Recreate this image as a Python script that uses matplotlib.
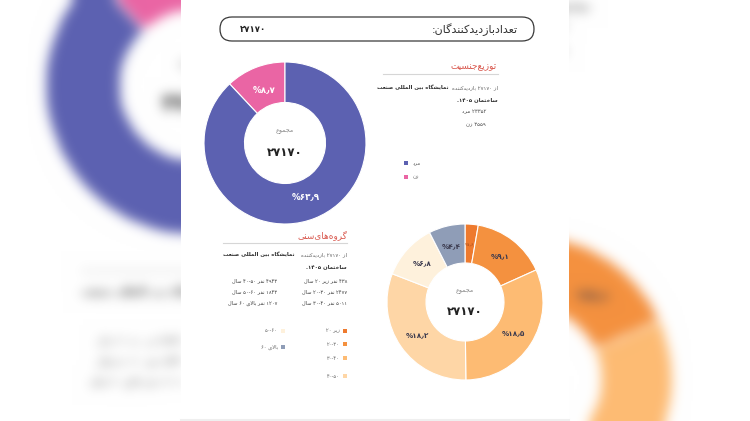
import numpy as np
import matplotlib
matplotlib.use("Agg")
import matplotlib.pyplot as plt
from matplotlib.patches import FancyBboxPatch, Rectangle

plt.rcParams["font.family"] = ["DejaVu Sans"]

W, H = 750, 421

# data
total_visitors = 27170
gender_names = ["زن", "مرد"]
gender_counts = [3559, 23352]
gender_pct = [8.7, 63.9]
gender_colors = ["#ea65a4", "#5c61b1"]

age_names = ["زیر ۲۰", "۲۰-۳۰", "۳۰-۴۰", "۴۰-۵۰", "۵۰-۶۰", "بالای ۶۰"]
age_counts = [438, 2477, 5011, 4943, 1843, 1207]
age_pct = [1.6, 9.1, 18.5, 18.2, 6.8, 4.4]
age_colors = ["#ee7a2e", "#f4913f", "#fdbb73", "#fed6a6", "#fef1dc", "#8f9db7"]

# --- tiny persian shaper + bidi, matplotlib does neither
FORMS = {
    "ا": "\ufe8d\ufe8e", "آ": "\ufe81\ufe82", "د": "\ufea9\ufeaa", "ذ": "\ufeab\ufeac",
    "ر": "\ufead\ufeae", "ز": "\ufeaf\ufeb0", "ژ": "\ufb8a\ufb8b", "و": "\ufeed\ufeee",
    "ب": "\ufe8f\ufe90\ufe91\ufe92", "پ": "\ufb56\ufb57\ufb58\ufb59", "ت": "\ufe95\ufe96\ufe97\ufe98",
    "ث": "\ufe99\ufe9a\ufe9b\ufe9c", "ج": "\ufe9d\ufe9e\ufe9f\ufea0", "چ": "\ufb7a\ufb7b\ufb7c\ufb7d",
    "ح": "\ufea1\ufea2\ufea3\ufea4", "خ": "\ufea5\ufea6\ufea7\ufea8", "س": "\ufeb1\ufeb2\ufeb3\ufeb4",
    "ش": "\ufeb5\ufeb6\ufeb7\ufeb8", "ص": "\ufeb9\ufeba\ufebb\ufebc", "ض": "\ufebd\ufebe\ufebf\ufec0",
    "ط": "\ufec1\ufec2\ufec3\ufec4", "ظ": "\ufec5\ufec6\ufec7\ufec8", "ع": "\ufec9\ufeca\ufecb\ufecc",
    "غ": "\ufecd\ufece\ufecf\ufed0", "ف": "\ufed1\ufed2\ufed3\ufed4", "ق": "\ufed5\ufed6\ufed7\ufed8",
    "ک": "\ufb8e\ufb8f\ufb90\ufb91", "گ": "\ufb92\ufb93\ufb94\ufb95", "ل": "\ufedd\ufede\ufedf\ufee0",
    "م": "\ufee1\ufee2\ufee3\ufee4", "ن": "\ufee5\ufee6\ufee7\ufee8", "ه": "\ufee9\ufeea\ufeeb\ufeec",
    "ی": "\ufbfc\ufbfd\ufbfe\ufbff",
}
NUM = set("۰۱۲۳۴۵۶۷۸۹0123456789٫")


def shape(s):
    out = []
    i = 0
    while i < len(s):
        c = s[i]
        if c not in FORMS:
            if c != "\u200c":
                out.append(c)
            i += 1
            continue
        prev = s[i - 1] if i > 0 else ""
        jp = prev in FORMS and len(FORMS[prev]) == 4
        nxt = s[i + 1] if i + 1 < len(s) else ""
        if c == "ل" and nxt == "ا":
            out.append("\ufefc" if jp else "\ufefb")
            i += 2
            continue
        jn = len(FORMS[c]) == 4 and nxt in FORMS
        f = FORMS[c]
        out.append(f[3] if jp and jn else f[1] if jp else f[2] if jn else f[0])
        i += 1
    return "".join(out)


def rtl(s):
    s = shape(s)
    runs = []
    for k, ch in enumerate(s):
        isnum = ch in NUM or (ch == "-" and 0 < k < len(s) - 1 and s[k - 1] in NUM and s[k + 1] in NUM)
        if runs and runs[-1][0] == isnum:
            runs[-1][1].append(ch)
        else:
            runs.append([isnum, [ch]])
    return "".join("".join(r) if num else "".join(reversed(r)) for num, r in reversed(runs))


def fa(n):
    return str(n).translate(str.maketrans("0123456789.", "۰۱۲۳۴۵۶۷۸۹٫"))


fig = plt.figure(figsize=(W / 100, H / 100), dpi=100)
fig.patch.set_facecolor("white")
page = fig.add_axes([0, 0, 1, 1], zorder=0)
page.set_xlim(0, W)
page.set_ylim(H, 0)
page.axis("off")
page.patch.set_visible(False)

page.add_patch(Rectangle((181, 0), 388, 421, facecolor="white", edgecolor="none", zorder=0))
page.plot([181, 569], [419.5, 419.5], color="#efefef", lw=1.5, zorder=0)


def put(x, y, s, size, ha="right", weight="normal", color="#555"):
    return page.text(x, y, rtl(s), fontsize=size, ha=ha, va="center",
                     fontweight=weight, color=color, zorder=3)


def fit(texts, width):
    r = fig.canvas.get_renderer()
    w = sum(t.get_window_extent(r).width for t in texts)
    for t in texts:
        t.set_fontsize(t.get_fontsize() * width / w)


# header bar
page.add_patch(FancyBboxPatch((220, 17), 314, 24, boxstyle="round,pad=0,rounding_size=12",
                              facecolor="white", edgecolor="#3a3a3a", lw=0.9, zorder=2))
fit([put(518, 29.5, "تعدادبازدیدکنندگان:", 8, color="#333")], 86)
fit([put(240, 29.5, fa(total_visitors), 8, ha="left", weight="bold", color="#222")], 26)


def donut(cx, cy, R, values, colors, label_color, label_size, ccw, dist):
    ax = fig.add_axes([(cx - R) / W, (H - cy - R) / H, 2 * R / W, 2 * R / H], zorder=1)
    labels = [rtl(fa(v) + "%") for v in values]
    wedges, texts = ax.pie(values, labels=labels, colors=colors, startangle=90, counterclock=ccw,
                           labeldistance=dist, radius=1,
                           wedgeprops=dict(width=0.5, edgecolor="white", linewidth=0.8))
    for t in texts:
        t.set_ha("center")
        t.set_va("center")
        t.set_color(label_color)
        t.set_fontweight("bold")
        t.set_fontsize(label_size)
    ax.set_xlim(-1, 1)
    ax.set_ylim(-1, 1)
    ax.text(0, 0.14, rtl("مجموع"), ha="center", va="center", fontsize=4.6, color="#888")
    ax.text(0, -0.12, fa(total_visitors), ha="center", va="center", fontsize=8.5,
            fontweight="bold", color="#222")
    return texts


# gender donut: pink first, anticlockwise from the top
donut(285, 143, 81, gender_pct, gender_colors, "white", 6.3, True, 0.71)

# age donut: clockwise from the top
age_texts = donut(465, 302, 78, age_pct, age_colors, "#3b3a4e", 5.2, False, 0.74)
age_texts[0].set_fontsize(2.6)
age_texts[0].set_color("#b8561f")

# gender text block
put(497, 67, "توزیع\u200cجنسیت", 6.4, color="#d9584e")
page.plot([383, 498], [74, 74], color="#d6d6d6", lw=0.8, zorder=2)
a = put(498, 88, "از " + fa(total_visitors) + " بازدیدکننده", 4.6, color="#5e5e5e")
b = put(377, 88, "نمایشگاه بین المللی صنعت", 4.6, ha="left", weight="bold", color="#2a2a2a")
fit([a, b], 117)
body = a.get_fontsize()
put(498, 100, "ساختمان " + fa(1405) + ".", body, weight="bold", color="#2a2a2a")
put(486, 112, fa(gender_counts[1]) + " " + gender_names[1], body, color="#4a4a4a")
put(486, 125, fa(gender_counts[0]) + " " + gender_names[0], body, color="#4a4a4a")

leg_y = [177, 163]
page.scatter([406, 406], leg_y, marker="s", s=12, c=gender_colors, zorder=3, linewidths=0)
for name, y in zip(gender_names, leg_y):
    put(413, y, name, body, ha="left", color="#666")

# age text block
put(347, 235, "گروه\u200cهای\u200cسنی", 6.4, color="#d9584e")
page.plot([223, 347], [243, 243], color="#d6d6d6", lw=0.8, zorder=2)
put(347, 255, "از " + fa(total_visitors) + " بازدیدکننده", body, color="#5e5e5e")
put(223, 255, "نمایشگاه بین المللی صنعت", body, ha="left", weight="bold", color="#2a2a2a")
put(347, 267, "ساختمان " + fa(1405) + ".", body, weight="bold", color="#2a2a2a")
row_x = [347, 347, 347, 277, 277, 277]
row_y = [281, 292, 303, 281, 292, 303]
for name, n, x, y in zip(age_names, age_counts, row_x, row_y):
    put(x, y, fa(n) + " نفر " + name + " سال", body * 0.95, color="#3e3e3e")

leg_x = [345, 345, 345, 345, 283, 283]
leg_y = [331, 344, 358, 376, 331, 347]
page.scatter(leg_x, leg_y, marker="s", s=12, c=age_colors, zorder=3, linewidths=0)
for name, x, y in zip(age_names, leg_x, leg_y):
    put(x - 5, y, name, body * 0.95, color="#666")

# blurred, enlarged copy of the panel as the backdrop
fig.canvas.draw()
img = np.asarray(fig.canvas.buffer_rgba())[:, :, :3].astype(float) / 255
ys, xs = np.mgrid[0:H, 0:W]
zoom = 1.85
sx = np.clip(((xs - 195) / zoom + 285).astype(int), 0, W - 1)
sy = np.clip(((ys - 85) / zoom + 143).astype(int), 0, H - 1)
bg = img[sy, sx]


def blur(a, sigma):
    r = int(3 * sigma)
    k = np.exp(-0.5 * (np.arange(-r, r + 1) / sigma) ** 2)
    k /= k.sum()
    for axis in (0, 1):
        pad = [(0, 0)] * 3
        pad[axis] = (r, r)
        p = np.pad(a, pad, mode="edge")
        out = np.zeros_like(a)
        n = a.shape[axis]
        for i, wk in enumerate(k):
            sl = [slice(None)] * 3
            sl[axis] = slice(i, i + n)
            out += wk * p[tuple(sl)]
        a = out
    return a


bg = np.clip(blur(bg, 6), 0, 1)
bg_ax = fig.add_axes([0, 0, 1, 1], zorder=-1)
bg_ax.imshow(bg, extent=(0, W, H, 0), aspect="auto", interpolation="bilinear")
bg_ax.axis("off")

fig.savefig("out.png", dpi=100)
